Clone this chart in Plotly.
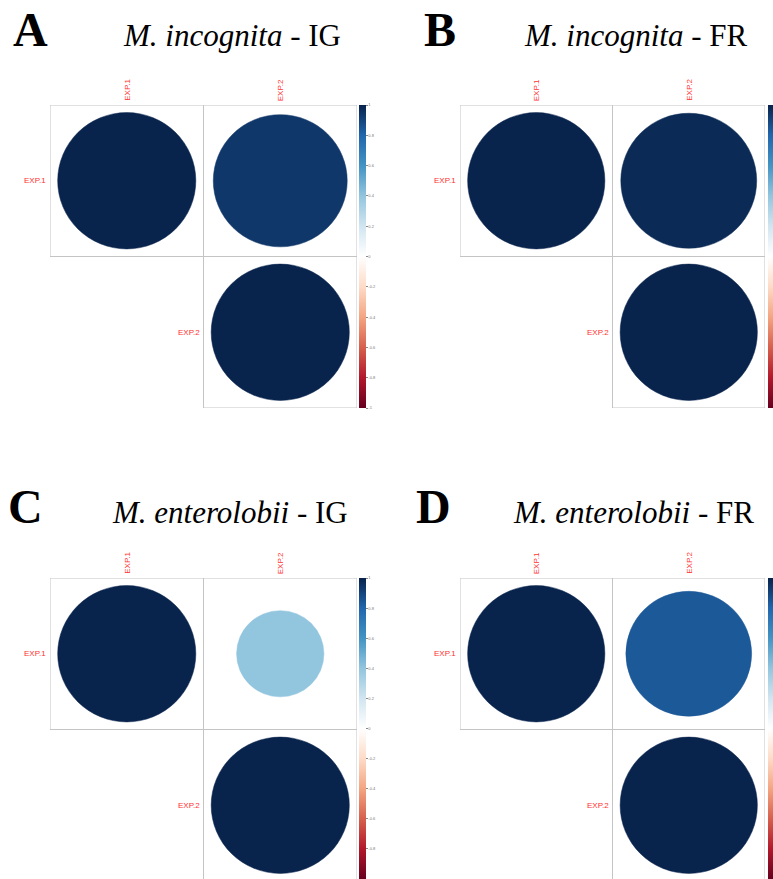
import plotly.graph_objects as go
from plotly.colors import sample_colorscale
import math

# ---------------- data ----------------
variables = ["EXP.1", "EXP.2"]
panel_letters = ["A", "B", "C", "D"]
panel_species = ["M. incognita", "M. incognita", "M. enterolobii", "M. enterolobii"]
panel_tissue = ["IG", "FR", "IG", "FR"]
# correlation matrices (upper triangle shown)
corr_A = [[1.0, 0.94], [0.94, 1.0]]
corr_B = [[1.0, 0.98], [0.98, 1.0]]
corr_C = [[1.0, 0.40], [0.40, 1.0]]
corr_D = [[1.0, 0.84], [0.84, 1.0]]
corrs = [corr_A, corr_B, corr_C, corr_D]
cbar_ticks = [-1, -0.8, -0.6, -0.4, -0.2, 0, 0.2, 0.4, 0.6, 0.8, 1]

# ---------------- style ----------------
W, H = 773, 879
colors_rdbu = ["#67001F", "#B2182B", "#D6604D", "#F4A582", "#FDDBC7", "#FFFFFF",
               "#D1E5F0", "#92C5DE", "#4393C3", "#2166AC", "#08234C"]
colorscale = [[i / 10, c] for i, c in enumerate(colors_rdbu)]

# panel grid boxes in pixels: (left, right, top, bottom)
boxes = [(50, 357, 105, 408), (460, 765, 105, 408),
         (50, 357, 578, 881), (460, 765, 578, 881)]
cbar_x = [359, 768, 359, 768]
letter_pos = [(11, 30), (422, 30), (6, 506), (414, 506)]
title_pos = [(121, 36), (522, 36), (110, 512), (511, 512)]

fig = go.Figure()
n = len(variables)

for k in range(4):
    L, R, T, B = boxes[k]
    Bc = min(B, H)
    ax = "" if k == 0 else str(k + 1)
    cell_px = (B - T) / n
    # y range adjusted for clipping at bottom of page
    y_bottom = n + 0.5 - (B - Bc) / cell_px
    fig.layout["xaxis" + ax] = dict(domain=[L / W, R / W], range=[0.5, n + 0.5],
                                   visible=False, fixedrange=True,
                                   anchor="y" + ax)
    fig.layout["yaxis" + ax] = dict(domain=[1 - Bc / H, 1 - T / H],
                                   range=[y_bottom, 0.5],
                                   visible=False, fixedrange=True,
                                   anchor="x" + ax)
    xr, yr = "x" + ax, "y" + ax
    M = corrs[k]
    xs, ys, vs = [], [], []
    for i in range(n):
        for j in range(i, n):
            r = M[i][j]
            xs.append(j + 1); ys.append(i + 1); vs.append(r)
            # cell border
            fig.add_shape(type="rect", xref=xr, yref=yr,
                          x0=j + 0.5, x1=j + 1.5, y0=i + 0.5, y1=i + 1.5,
                          line=dict(color="#C4C4C4", width=1), layer="below")
            rad = 0.45 * math.sqrt(abs(r))
            col = sample_colorscale(colorscale, [(r + 1) / 2])[0]
            fig.add_shape(type="circle", xref=xr, yref=yr,
                          x0=j + 1 - rad, x1=j + 1 + rad,
                          y0=i + 1 - rad, y1=i + 1 + rad,
                          fillcolor=col, line=dict(color=col, width=0.5))
    # invisible trace that carries the colour bar
    fig.add_trace(go.Scatter(
        x=xs, y=ys, xaxis=xr, yaxis=yr, mode="markers", hoverinfo="skip",
        marker=dict(size=1, opacity=0, color=vs, colorscale=colorscale,
                    cmin=-1, cmax=1, showscale=True,
                    colorbar=dict(x=cbar_x[k] / W, xanchor="left", xpad=0,
                                  y=1 - T / H, yanchor="top", ypad=0,
                                  len=(Bc - T) / H, lenmode="fraction",
                                  thickness=7, outlinewidth=0,
                                  tickvals=cbar_ticks,
                                  ticktext=[str(t) for t in cbar_ticks],
                                  ticks="outside", ticklen=2, tickwidth=0.5,
                                  tickcolor="#888888",
                                  tickfont=dict(size=4, color="#777777",
                                                family="Liberation Sans"))),
        showlegend=False))
    # variable labels
    for idx, name in enumerate(variables):
        fig.add_annotation(x=idx + 1, y=0.5, xref=xr, yref=yr, text=name,
                           textangle=-90, showarrow=False, yanchor="bottom",
                           xanchor="center", yshift=2,
                           font=dict(size=8, color="#FF3030",
                                     family="Liberation Sans"))
        fig.add_annotation(x=idx + 0.5, y=idx + 1, xref=xr, yref=yr, text=name,
                           showarrow=False, xanchor="right", yanchor="middle",
                           xshift=-2,
                           font=dict(size=8, color="#FF3030",
                                     family="Liberation Sans"))
    # panel letter and title
    lx, ly = letter_pos[k]
    fig.add_annotation(x=lx / W, y=1 - ly / H, xref="paper", yref="paper",
                       text="<b>" + panel_letters[k] + "</b>", showarrow=False,
                       xanchor="left", yanchor="middle",
                       font=dict(size=48, color="black",
                                 family="Liberation Serif, Times New Roman, serif"))
    tx, ty = title_pos[k]
    fig.add_annotation(x=tx / W, y=1 - ty / H, xref="paper", yref="paper",
                       text="<i>" + panel_species[k] + "</i> - " + panel_tissue[k],
                       showarrow=False, xanchor="left", yanchor="middle",
                       font=dict(size=31, color="black",
                                 family="Liberation Serif, Times New Roman, serif"))

fig.update_layout(width=W, height=H,
                  margin=dict(l=0, r=0, t=0, b=0, autoexpand=False),
                  paper_bgcolor="white", plot_bgcolor="white", showlegend=False)
fig.write_html("out.html", config={"displayModeBar": False},
               post_script="document.body.style.margin='0';"
                           "document.body.style.overflow='hidden';")
